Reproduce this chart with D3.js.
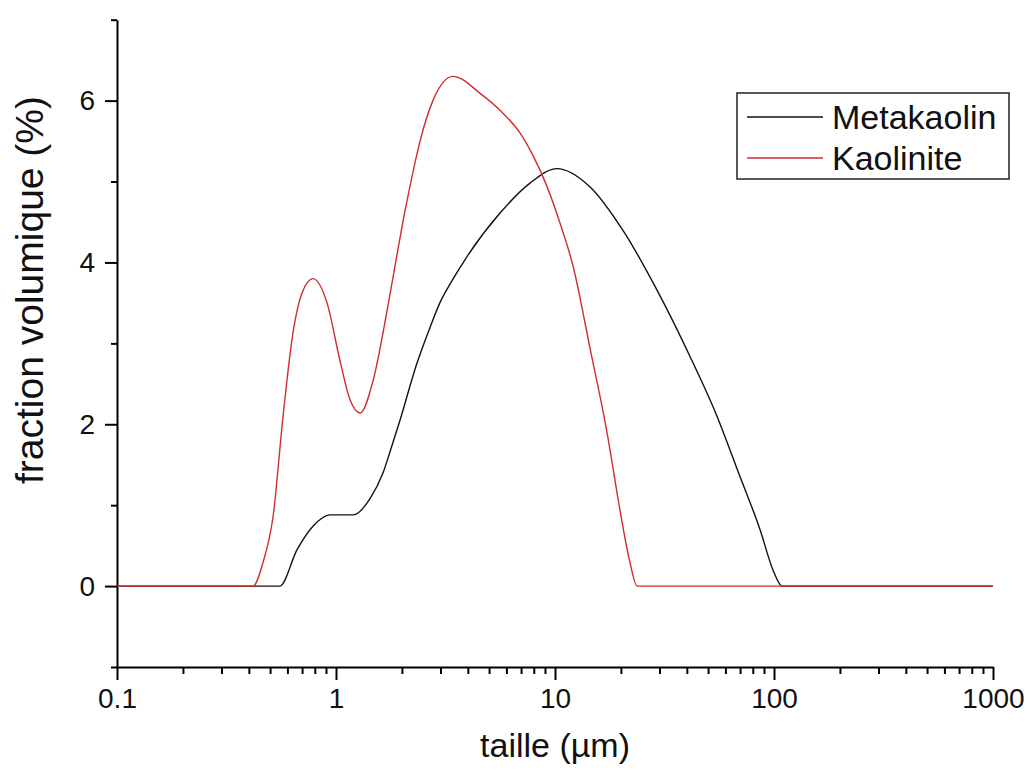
<!DOCTYPE html>
<html>
<head>
<meta charset="utf-8">
<script src="https://cdn.jsdelivr.net/npm/d3@7"></script>
<style>
  body { margin: 0; background: #fff; }
  svg { display: block; font-family: Arial, "Liberation Sans", sans-serif; }
</style>
</head>
<body>
<div class="graph"></div>
<script>
// particle size (µm) and volume fraction (%)
const metaSize = [0.1, 0.554, 0.664, 0.785, 0.94, 1.2, 1.43, 1.64, 1.76, 1.96, 2.34, 2.69, 2.98, 3.43, 3.96, 5.61, 7.69, 10.2, 14.5, 20.5, 29.2, 41.3, 54.9, 70.0, 86.3, 98.9, 109, 1000];
const metaValue = [0, 0, 0.45, 0.74, 0.88, 0.88, 1.08, 1.4, 1.65, 2.05, 2.75, 3.2, 3.5, 3.8, 4.07, 4.61, 4.98, 5.16, 4.93, 4.39, 3.66, 2.84, 2.1, 1.35, 0.7, 0.2, 0, 0];

const kaoSize = [0.1, 0.418, 0.464, 0.516, 0.573, 0.636, 0.699, 0.785, 0.91, 1.04, 1.16, 1.29, 1.48, 1.71, 1.9, 2.02, 2.18, 2.42, 2.77, 3.42, 4.55, 5.61, 6.92, 7.94, 9.19, 10.5, 12.1, 14.5, 17.3, 19.8, 22.0, 23.7, 1000];
const kaoValue = [0, 0, 0.29, 0.86, 2.1, 3.13, 3.62, 3.8, 3.5, 2.8, 2.3, 2.14, 2.55, 3.4, 4.1, 4.5, 4.95, 5.5, 6.0, 6.3, 6.09, 5.88, 5.6, 5.32, 4.94, 4.5, 3.95, 2.92, 1.89, 0.94, 0.29, 0, 0];

const seriesNames = ["Metakaolin", "Kaolinite"];
const seriesColors = ["#111111", "#cf2e2e"];
const xTickLabels = ["0.1", "1", "10", "100", "1000"];
const yTicks = [0, 2, 4, 6];

const width = 1027;
const height = 772;

const svg = d3.select(".graph")
  .append("svg")
  .attr("width", width)
  .attr("height", height)
  .attr("viewBox", [0, 0, width, height]);

const x = d3.scaleLog().domain([0.1, 1000]).range([117, 993]);
const y = d3.scaleLinear().domain([-1, 7]).range([667, 19.7]);

// x axis, major + minor ticks
const majorX = xTickLabels.map(Number);
const minorX = [];
for (let dec = 0.1; dec < 1000; dec *= 10) {
  for (let k = 2; k <= 9; k++) minorX.push(dec * k);
}

svg.append("g")
  .attr("transform", `translate(0,${y(-1)})`)
  .call(d3.axisBottom(x).tickValues(minorX).tickSize(7).tickFormat(""))
  .call((g) => g.select(".domain").remove())
  .call((g) => g.selectAll("line").attr("stroke", "#000").attr("stroke-width", 2));

const xAxis = svg.append("g")
  .attr("transform", `translate(0,${y(-1)})`)
  .call(d3.axisBottom(x).tickValues(majorX).tickSize(13).tickSizeOuter(0)
    .tickFormat((d, i) => xTickLabels[i]));
xAxis.select(".domain").attr("stroke", "#000").attr("stroke-width", 2);
xAxis.selectAll("line").attr("stroke", "#000").attr("stroke-width", 2);
xAxis.selectAll("text")
  .attr("font-size", 28)
  .attr("font-family", "Arial, 'Liberation Sans', sans-serif")
  .attr("fill", "#111")
  .attr("dy", "0.9em");

// y axis
svg.append("g")
  .attr("transform", `translate(${x(0.1)},0)`)
  .call(d3.axisLeft(y).tickValues([-1, 1, 3, 5, 7]).tickSize(6).tickFormat(""))
  .call((g) => g.select(".domain").remove())
  .call((g) => g.selectAll("line").attr("stroke", "#000").attr("stroke-width", 2));

const yAxis = svg.append("g")
  .attr("transform", `translate(${x(0.1)},0)`)
  .call(d3.axisLeft(y).tickValues(yTicks).tickSize(12).tickSizeOuter(0).tickPadding(10));
yAxis.select(".domain").attr("stroke", "#000").attr("stroke-width", 2);
yAxis.selectAll("line").attr("stroke", "#000").attr("stroke-width", 2);
yAxis.selectAll("text")
  .attr("font-size", 28)
  .attr("font-family", "Arial, 'Liberation Sans', sans-serif")
  .attr("fill", "#111");

// axis titles
svg.append("text")
  .attr("x", (x(0.1) + x(1000)) / 2)
  .attr("y", 757)
  .attr("text-anchor", "middle")
  .attr("font-size", 34)
  .attr("fill", "#111")
  .text("taille (µm)");

svg.append("text")
  .attr("transform", "translate(43,290) rotate(-90)")
  .attr("text-anchor", "middle")
  .attr("font-size", 39)
  .attr("fill", "#111")
  .text("fraction volumique (%)");

// curves
const series = [
  { name: seriesNames[0], color: seriesColors[0], pts: metaSize.map((s, i) => [s, metaValue[i]]) },
  { name: seriesNames[1], color: seriesColors[1], pts: kaoSize.map((s, i) => [s, kaoValue[i]]) },
];

const line = d3.line()
  .x((d) => x(d[0]))
  .y((d) => y(d[1]))
  .curve(d3.curveMonotoneX);

svg.append("g")
  .attr("fill", "none")
  .selectAll()
  .data(series)
  .join("path")
  .attr("stroke", (d) => d.color)
  .attr("stroke-width", 1.4)
  .attr("d", (d) => line(d.pts));

// legend
const legend = svg.append("g");
legend.append("rect")
  .attr("x", 737)
  .attr("y", 93)
  .attr("width", 272)
  .attr("height", 86)
  .attr("fill", "#fff")
  .attr("stroke", "#222")
  .attr("stroke-width", 1.5);

const rows = legend.selectAll("g.row")
  .data(series)
  .join("g")
  .attr("class", "row")
  .attr("transform", (d, i) => `translate(0,${117 + i * 41})`);
rows.append("line")
  .attr("x1", 747).attr("x2", 823)
  .attr("stroke", (d) => d.color)
  .attr("stroke-width", 1.4);
rows.append("text")
  .attr("x", 832)
  .attr("y", 12)
  .attr("font-size", 34)
  .attr("fill", "#111")
  .text((d) => d.name);
</script>
</body>
</html>
